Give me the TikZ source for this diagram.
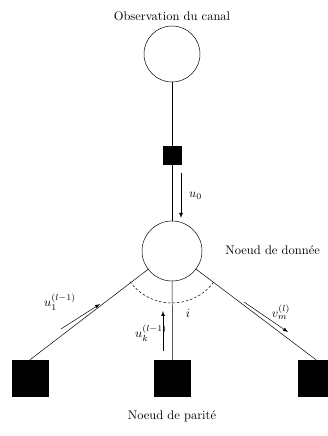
\documentclass[tikz,border=0pt]{standalone}
\usepackage{amsmath}
\usetikzlibrary{arrows}

\begin{document}
\begin{tikzpicture}[x=0.8pt,y=0.8pt,>=latex,
    varnode/.style={draw,circle,inner sep=0pt},
    chknode/.style={draw,fill=black,inner sep=0pt}]
        \useasboundingbox(0,0)rectangle(328,436);
        \node(titre)at(172,420){Observation du canal};
        \node[varnode,minimum size=44.8pt](obs)at(172,382){};
        \node[chknode,minimum size=14.4pt](f0)at(172,281){};
        \node[varnode,minimum size=48pt](var)at(172,185){};
        \node[anchor=west](donnee)at(221,186){Noeud de donn\'ee};
        \node[chknode,minimum size=28.8pt](c1)at(30,58){};
        \node[chknode,minimum size=28.8pt](ck)at(172.5,58){};
        \node[chknode,minimum size=28.8pt](cm)at(316,58){};
        \node(parite)at(172,20){Noeud de parit\'e};
        \draw(obs)--(f0);
        \draw(f0)--(var);
        \draw(var)--(c1.north);
        \draw(var)--(ck.north);
        \draw(var)--(cm.north);
        \draw[dash pattern=on 2pt off 1.6pt](172,185)++(216:52)arc(216:324:52);
        \node(i)at(188,123){$i$};
        \draw[->](181,263)--(181,218)node[midway,right=3pt](u0){$u_0$};
        \draw[->](61,107)--(100,132);
        \node(u1)at(60,134){$u_1^{(l-1)}$};
        \draw[->](163,85)--(163,125);
        \node(uk)at(151,103){$u_k^{(l-1)}$};
        \draw[->](244,134)--(288,104);
        \node(vm)at(281,124){$v_m^{(l)}$};

    \end{tikzpicture}
\end{document}
